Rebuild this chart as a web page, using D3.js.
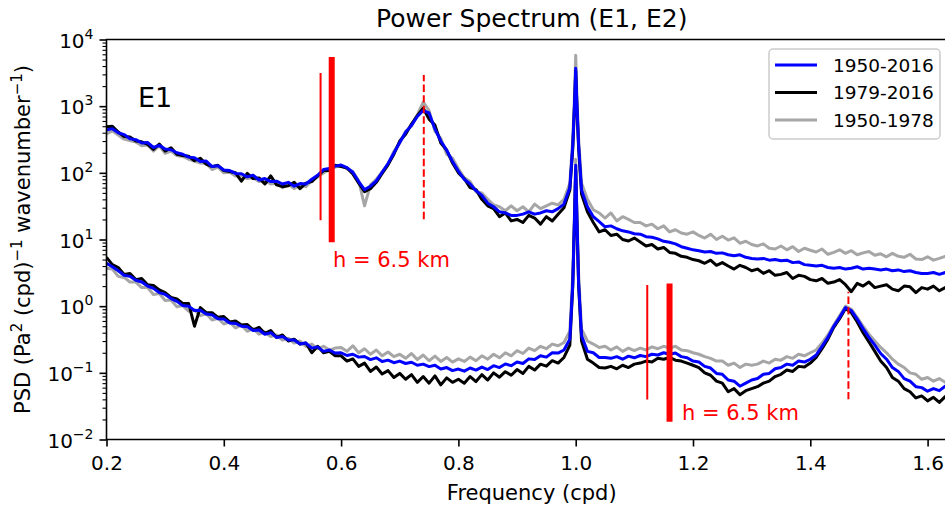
<!DOCTYPE html>
<html>
<head>
<script src="https://d3js.org/d3.v7.min.js"></script>
<style>
  body { margin: 0; background: #fff; }
  text { font-family: "DejaVu Sans", sans-serif; }
</style>
</head>
<body>
<script>
// frequency grid (cpd), finer around the 1 cpd peak
const freq = [
  0.20, 0.21, 0.22, 0.23, 0.24, 0.25, 0.26, 0.27, 0.28, 0.29,
  0.30, 0.31, 0.32, 0.33, 0.34, 0.35, 0.36, 0.37, 0.38, 0.39,
  0.40, 0.41, 0.42, 0.43, 0.44, 0.45, 0.46, 0.47, 0.48, 0.49,
  0.50, 0.51, 0.52, 0.53, 0.54, 0.55, 0.56, 0.57, 0.58, 0.59,
  0.60, 0.61, 0.62, 0.63, 0.64, 0.65, 0.66, 0.67, 0.68, 0.69,
  0.70, 0.71, 0.72, 0.73, 0.74, 0.75, 0.76, 0.77, 0.78, 0.79,
  0.80, 0.81, 0.82, 0.83, 0.84, 0.85, 0.86, 0.87, 0.88, 0.89,
  0.90, 0.91, 0.92, 0.93, 0.94, 0.95, 0.96, 0.97, 0.98, 0.99,
  0.995, 0.998, 1.000, 1.002, 1.005,
  1.01, 1.02, 1.03, 1.04, 1.05, 1.06, 1.07, 1.08, 1.09, 1.10,
  1.11, 1.12, 1.13, 1.14, 1.15, 1.16, 1.17, 1.18, 1.19, 1.20,
  1.21, 1.22, 1.23, 1.24, 1.25, 1.26, 1.27, 1.28, 1.29, 1.30,
  1.31, 1.32, 1.33, 1.34, 1.35, 1.36, 1.37, 1.38, 1.39, 1.40,
  1.41, 1.42, 1.43, 1.44, 1.45, 1.46, 1.47, 1.48, 1.49, 1.50,
  1.51, 1.52, 1.53, 1.54, 1.55, 1.56, 1.57, 1.58, 1.59, 1.60,
  1.61, 1.62, 1.63, 1.64, 1.65
];

// E1, 1950-2016
const e1Full = [
  440, 460, 400, 375, 325, 315, 280, 285, 240, 258,
  228, 222, 200, 190, 172, 168, 148, 150, 124, 128,
  110, 108, 98, 97, 87, 92, 78, 82, 74, 75,
  68, 72, 63, 69, 68, 80, 92, 112, 116, 126,
  131, 120, 102, 74, 56, 63, 76, 102, 138, 198,
  285, 405, 515, 700, 860, 790, 455, 300, 218, 148,
  106, 80, 68, 54, 46, 35, 31, 26, 25, 23,
  23, 24, 26, 24, 25, 27, 26, 29, 34, 60,
  260, 1100, 3700, 1100, 260,
  55, 31, 22, 18.5, 15.5, 16, 14.5, 13.5, 13, 12.2,
  12, 11, 10.8, 10.2, 9.4, 9.1, 8.6, 7.8, 7.4, 7.0,
  6.8, 6.5, 6.6, 6.2, 6.3, 5.9, 5.7, 5.9, 5.4, 5.2,
  5.1, 5.2, 4.9, 5.0, 4.8, 4.9, 4.5, 4.6, 4.2, 4.1,
  4.0, 4.1, 3.8, 3.7, 3.8, 3.6, 3.7, 3.9, 3.6, 3.7,
  3.6, 3.5, 3.6, 3.4, 3.5, 3.3, 3.4, 3.2, 3.1, 3.1,
  3.2, 3.0, 3.2, 3.3, 3.2
];

// E1, 1979-2016
const e1Late = [
  490, 500, 410, 350, 345, 300, 292, 268, 225, 270,
  212, 238, 190, 182, 178, 152, 165, 135, 124, 130,
  108, 105, 100, 75, 98, 82, 84, 68, 90, 66,
  62, 64, 72, 58, 70, 74, 90, 108, 108, 130,
  124, 118, 96, 70, 52, 58, 72, 98, 132, 190,
  300, 380, 540, 720, 930, 640, 520, 280, 220, 140,
  100, 82, 60, 56, 40, 32, 29, 22, 25, 19,
  20, 18, 23, 21, 17, 22, 19, 24, 30, 55,
  230, 1000, 3400, 1000, 230,
  48, 26, 18, 13, 14, 11.5, 12, 10, 9.5, 10.5,
  9.2, 8.0, 8.4, 7.2, 7.6, 6.4, 6.2, 5.6, 5.4, 5.0,
  4.8, 4.4, 4.9, 4.1, 4.5, 4.0, 3.6, 4.1, 3.8, 3.4,
  3.6, 3.1, 3.4, 2.9, 3.0, 3.2, 2.6, 2.9, 2.8, 2.5,
  2.4, 2.6, 2.2, 2.3, 2.5, 2.1, 1.65, 2.2, 2.0, 2.3,
  1.9, 2.0, 2.1, 1.8, 1.7, 2.0, 1.95, 1.6, 1.9, 1.8,
  2.0, 1.7, 1.9, 1.95, 1.75
];

// E1, 1950-1978
const e1Early = [
  385, 425, 370, 320, 305, 290, 255, 262, 212, 255,
  196, 212, 182, 176, 160, 150, 140, 138, 112, 122,
  100, 102, 90, 90, 82, 84, 74, 76, 68, 70,
  60, 68, 58, 66, 62, 78, 86, 100, 112, 122,
  130, 115, 104, 76, 32, 66, 80, 104, 135, 210,
  280, 420, 500, 740, 1150, 860, 420, 330, 190, 165,
  115, 84, 74, 52, 50, 40, 33, 31, 27, 32,
  27, 31, 26, 34, 29, 32, 35, 33, 40, 70,
  320, 1500, 5800, 1500, 320,
  70, 40, 28, 25, 21, 25, 19, 22, 20, 18,
  18, 16, 17, 14.5, 16, 13, 14, 12.5, 12, 13,
  11.5, 10.5, 12, 10, 11.2, 9.8, 10.6, 8.8, 9.4, 8.4,
  8.0, 8.6, 7.4, 7.2, 8.0, 7.0, 7.8, 6.6, 7.4, 6.9,
  6.5, 7.2, 6.0, 6.4, 7.0, 6.2, 6.8, 5.9, 6.3, 6.6,
  5.8, 6.1, 5.5, 6.2, 5.6, 5.4, 6.0, 5.1, 5.0, 5.5,
  4.9, 5.2, 5.6, 5.0, 5.4
];

// E2, 1950-2016
const e2Full = [
  4.4, 3.9, 3.4, 2.9, 2.8, 2.45, 2.3, 2.0, 1.85, 1.6,
  1.5, 1.3, 1.18, 1.02, 1.0, 0.86, 0.87, 0.76, 0.74, 0.65,
  0.64, 0.56, 0.55, 0.5, 0.49, 0.43, 0.44, 0.38, 0.4, 0.34,
  0.35, 0.31, 0.31, 0.27, 0.28, 0.235, 0.245, 0.21, 0.22, 0.198,
  0.2, 0.182, 0.19, 0.172, 0.176, 0.158, 0.168, 0.148, 0.155, 0.142,
  0.15, 0.138, 0.144, 0.13, 0.135, 0.124, 0.13, 0.114, 0.12, 0.108,
  0.114, 0.106, 0.118, 0.11, 0.122, 0.112, 0.128, 0.12, 0.136, 0.128,
  0.145, 0.138, 0.162, 0.158, 0.18, 0.172, 0.2, 0.198, 0.22, 0.32,
  2.2, 22, 130, 22, 2.2,
  0.36, 0.21, 0.2, 0.17, 0.17, 0.165, 0.175, 0.16, 0.178, 0.168,
  0.182, 0.175, 0.19, 0.185, 0.2, 0.19, 0.198, 0.175, 0.168, 0.15,
  0.145, 0.125, 0.118, 0.098, 0.095, 0.078, 0.075, 0.063, 0.07, 0.078,
  0.082, 0.095, 0.098, 0.115, 0.12, 0.135, 0.13, 0.15, 0.145, 0.16,
  0.185, 0.25, 0.34, 0.5, 0.68, 0.95, 0.86, 0.64, 0.46, 0.34,
  0.26, 0.195, 0.16, 0.12, 0.105, 0.082, 0.075, 0.062, 0.06, 0.053,
  0.058, 0.054, 0.063, 0.06, 0.066
];

// E2, 1979-2016
const e2Late = [
  5.4, 4.2, 3.8, 3.0, 3.1, 2.5, 2.6, 2.1, 2.05, 1.75,
  1.6, 1.35, 1.28, 1.1, 1.1, 0.5, 0.95, 0.8, 0.8, 0.68,
  0.7, 0.58, 0.6, 0.52, 0.53, 0.44, 0.48, 0.39, 0.43, 0.34,
  0.37, 0.3, 0.32, 0.27, 0.28, 0.2, 0.25, 0.2, 0.21, 0.18,
  0.18, 0.15, 0.162, 0.125, 0.14, 0.105, 0.122, 0.096, 0.108, 0.085,
  0.098, 0.08, 0.094, 0.072, 0.088, 0.07, 0.09, 0.066, 0.084, 0.072,
  0.08, 0.07, 0.088, 0.074, 0.094, 0.078, 0.1, 0.086, 0.104, 0.092,
  0.112, 0.098, 0.125, 0.11, 0.135, 0.126, 0.152, 0.14, 0.17, 0.26,
  2.0, 20, 110, 20, 2.0,
  0.3, 0.16, 0.14, 0.12, 0.118, 0.125, 0.115, 0.13, 0.12, 0.135,
  0.14, 0.15, 0.145, 0.165, 0.16, 0.17, 0.155, 0.15, 0.14, 0.13,
  0.12, 0.1, 0.092, 0.075, 0.07, 0.052, 0.058, 0.047, 0.054, 0.058,
  0.062, 0.07, 0.075, 0.088, 0.095, 0.11, 0.105, 0.125, 0.122, 0.14,
  0.17, 0.23, 0.32, 0.48, 0.65, 0.92, 0.8, 0.58, 0.4, 0.29,
  0.21, 0.15, 0.12, 0.085, 0.075, 0.058, 0.052, 0.042, 0.045, 0.038,
  0.043, 0.036, 0.044, 0.038, 0.046
];

// E2, 1950-1978
const e2Early = [
  3.7, 3.6, 2.8, 2.7, 2.3, 2.3, 1.9, 1.9, 1.5, 1.55,
  1.22, 1.24, 0.98, 1.02, 0.84, 0.88, 0.72, 0.77, 0.62, 0.66,
  0.54, 0.58, 0.47, 0.52, 0.42, 0.46, 0.38, 0.41, 0.35, 0.37,
  0.31, 0.33, 0.28, 0.3, 0.25, 0.27, 0.23, 0.25, 0.22, 0.235,
  0.24, 0.21, 0.255, 0.2, 0.23, 0.19, 0.22, 0.18, 0.205, 0.175,
  0.19, 0.165, 0.195, 0.158, 0.185, 0.152, 0.178, 0.148, 0.17, 0.145,
  0.162, 0.148, 0.172, 0.152, 0.18, 0.16, 0.19, 0.168, 0.2, 0.18,
  0.215, 0.195, 0.235, 0.215, 0.25, 0.23, 0.27, 0.255, 0.285, 0.42,
  3.0, 28, 160, 28, 3.0,
  0.45, 0.3, 0.27, 0.24, 0.25, 0.22, 0.245, 0.21, 0.235, 0.215,
  0.235, 0.22, 0.245, 0.23, 0.25, 0.235, 0.25, 0.22, 0.215, 0.2,
  0.19, 0.175, 0.165, 0.15, 0.15, 0.13, 0.14, 0.12, 0.135, 0.13,
  0.135, 0.15, 0.14, 0.16, 0.155, 0.175, 0.165, 0.19, 0.18, 0.2,
  0.22, 0.28, 0.37, 0.52, 0.72, 1.0, 0.9, 0.68, 0.5, 0.38,
  0.3, 0.24, 0.2, 0.16, 0.135, 0.12, 0.1, 0.095, 0.08, 0.085,
  0.075, 0.082, 0.072, 0.08, 0.076
];

const seriesLabels = ["1950-2016", "1979-2016", "1950-1978"];
const seriesColors = ["#0000ff", "#000000", "#a6a6a6"];

// red markers: thin, thick, dashed
const markFreqE1 = [0.565, 0.584, 0.741];
const markLoE1 = [19.5, 9.1, 20.2];
const markHiE1 = [3140, 5460, 2930];
const markFreqE2 = [1.122, 1.160, 1.465];
const markLoE2 = [0.0398, 0.0184, 0.040];
const markHiE2 = [2.07, 2.19, 1.64];

const xTicks = [0.2, 0.4, 0.6, 0.8, 1.0, 1.2, 1.4, 1.6];
const yTicks = [1e-2, 1e-1, 1e0, 1e1, 1e2, 1e3, 1e4];

const W = 945, H = 510;
const padL = 106.5, padT = 39.5, padB = 439.5;

const x = d3.scaleLinear().domain([0.2, 1.65]).range([padL, padL + 1.45 * 586.5]);
const y = d3.scaleLog().domain([1e-2, 1e4]).range([padB, padT]);

const svg = d3.select("body").append("svg")
    .attr("width", W).attr("height", H);

svg.append("defs").append("clipPath").attr("id", "clip")
  .append("rect").attr("x", padL).attr("y", padT)
  .attr("width", W - padL + 20).attr("height", padB - padT);

const plot = svg.append("g").attr("clip-path", "url(#clip)");

const line = d3.line().x((d, i) => x(freq[i])).y(d => y(d));

// gray first, blue on top
const order = [2, 1, 0];
const e1 = [e1Full, e1Late, e1Early];
const e2 = [e2Full, e2Late, e2Early];
order.forEach(k => {
  [e1[k], e2[k]].forEach(s => {
    plot.append("path").datum(s)
      .attr("d", line)
      .attr("fill", "none")
      .attr("stroke", seriesColors[k])
      .attr("stroke-width", 3)
      .attr("stroke-linejoin", "round");
  });
});

// red vertical markers
function marks(fs, lo, hi) {
  fs.forEach((f, i) => {
    plot.append("line")
      .attr("x1", x(f)).attr("x2", x(f))
      .attr("y1", y(lo[i])).attr("y2", y(hi[i]))
      .attr("stroke", "#ff0000")
      .attr("stroke-width", i == 1 ? 6 : 2)
      .attr("stroke-dasharray", i == 2 ? "7.4,3.2" : null);
  });
}
marks(markFreqE1, markLoE1, markHiE1);
marks(markFreqE2, markLoE2, markHiE2);

svg.append("text").attr("x", 333).attr("y", 267)
  .attr("font-size", 21).attr("fill", "#ff0000").text("h = 6.5 km");
svg.append("text").attr("x", 682).attr("y", 420)
  .attr("font-size", 21).attr("fill", "#ff0000").text("h = 6.5 km");

svg.append("text").attr("x", 138).attr("y", 107)
  .attr("font-size", 27).text("E1");

// x axis
const gx = svg.append("g").attr("transform", "translate(0," + padB + ")")
  .call(d3.axisBottom(x).tickValues(xTicks).tickFormat(d3.format(".1f"))
    .tickSize(7).tickSizeOuter(0).tickPadding(9));
gx.select(".domain").remove();
gx.selectAll(".tick line").attr("stroke-width", 1.6);
gx.selectAll(".tick text").attr("font-size", 20).attr("font-family", "DejaVu Sans");

// y axis, major + minor ticks
const minors = [];
for (let e = -2; e < 4; e++) for (let m = 2; m <= 9; m++) minors.push(m * Math.pow(10, e));

const gy = svg.append("g").attr("transform", "translate(" + padL + ",0)")
  .call(d3.axisLeft(y).tickValues(yTicks).tickFormat("").tickSize(7).tickSizeOuter(0));
gy.select(".domain").remove();
gy.selectAll(".tick line").attr("stroke-width", 1.6);

const gyMinor = svg.append("g").attr("transform", "translate(" + padL + ",0)")
  .call(d3.axisLeft(y).tickValues(minors).tickFormat("").tickSize(4).tickSizeOuter(0));
gyMinor.select(".domain").remove();
gyMinor.selectAll(".tick line").attr("stroke-width", 1.1);

yTicks.forEach(v => {
  const ex = Math.round(Math.log10(v));
  const t = svg.append("text")
    .attr("x", padL - 13).attr("y", y(v) + 8)
    .attr("text-anchor", "end").attr("font-size", 20);
  t.append("tspan").text("10");
  t.append("tspan").attr("dy", -9).attr("font-size", 14)
    .text(ex < 0 ? "\u2212" + (-ex) : String(ex));
});

// spines
svg.append("path")
  .attr("d", "M" + W + "," + padT + "H" + padL + "V" + padB + "H" + W)
  .attr("fill", "none").attr("stroke", "#000").attr("stroke-width", 1.6);

// labels
svg.append("text").attr("x", (padL + x(1.65)) / 2).attr("y", 27)
  .attr("text-anchor", "middle").attr("font-size", 25)
  .text("Power Spectrum (E1, E2)");

svg.append("text").attr("x", (padL + x(1.65)) / 2).attr("y", 500)
  .attr("text-anchor", "middle").attr("font-size", 21)
  .text("Frequency (cpd)");

const yl = svg.append("text")
  .attr("transform", "translate(30," + (padT + padB) / 2 + ") rotate(-90)")
  .attr("text-anchor", "middle").attr("font-size", 21);
yl.append("tspan").text("PSD (Pa");
yl.append("tspan").attr("dy", -8).attr("font-size", 15).text("2");
yl.append("tspan").attr("dy", 8).text(" (cpd)");
yl.append("tspan").attr("dy", -8).attr("font-size", 15).text("\u22121");
yl.append("tspan").attr("dy", 8).text(" wavenumber");
yl.append("tspan").attr("dy", -8).attr("font-size", 15).text("\u22121");
yl.append("tspan").attr("dy", 8).text(")");

// legend
const lg = svg.append("g");
lg.append("rect").attr("x", 769).attr("y", 49).attr("width", 171).attr("height", 90)
  .attr("rx", 4).attr("fill", "#fff").attr("fill-opacity", 0.8)
  .attr("stroke", "#cccccc").attr("stroke-width", 1.5);
seriesLabels.forEach((s, i) => {
  const ry = 65 + i * 27.5;
  lg.append("line").attr("x1", 775).attr("x2", 817).attr("y1", ry).attr("y2", ry)
    .attr("stroke", seriesColors[i]).attr("stroke-width", 3);
  lg.append("text").attr("x", 833).attr("y", ry + 6.7)
    .attr("font-size", 18.5).text(s);
});
</script>
</body>
</html>
